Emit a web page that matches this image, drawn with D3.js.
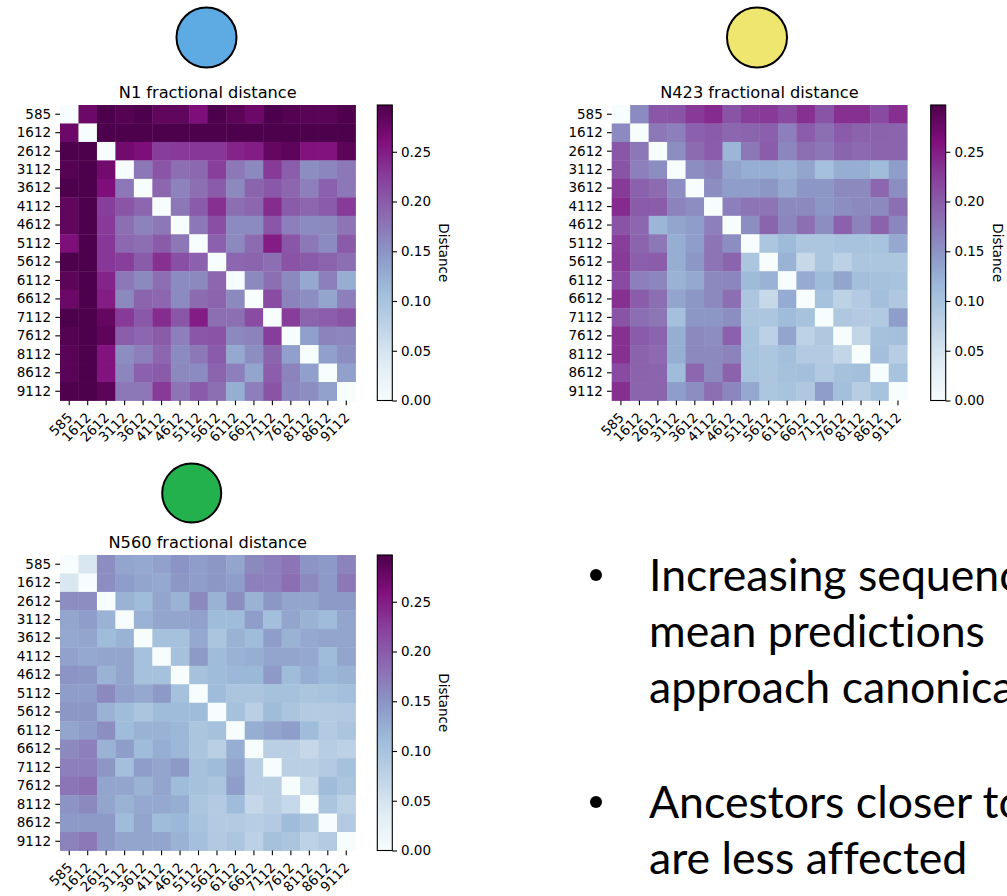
<!DOCTYPE html>
<html>
<head>
<meta charset="utf-8">
<script src="https://cdn.jsdelivr.net/npm/d3@7"></script>
<style>
  html,body{margin:0;padding:0;background:#fff;overflow:hidden;}
  svg{display:block;}
  .bullet{font-variant-ligatures:none;font-feature-settings:"liga" 0;}
</style>
</head>
<body>
<div id="chart"></div>
<script>
const labels=["585","1612","2612","3112","3612","4112","4612","5112","5612","6112","6612","7112","7612","8112","8612","9112"];

// upper triangle of each symmetric distance matrix (row i holds columns i+1..15)
const n1Upper=[
  [0.275,0.297,0.290,0.297,0.283,0.283,0.262,0.297,0.287,0.275,0.297,0.292,0.288,0.288,0.295],
  [0.297,0.297,0.297,0.297,0.297,0.297,0.297,0.297,0.297,0.297,0.297,0.297,0.297,0.297],
  [0.270,0.262,0.226,0.228,0.230,0.230,0.245,0.250,0.280,0.285,0.258,0.258,0.287],
  [0.175,0.205,0.183,0.188,0.225,0.175,0.160,0.228,0.197,0.155,0.162,0.175],
  [0.190,0.165,0.182,0.200,0.160,0.192,0.202,0.190,0.168,0.195,0.175],
  [0.175,0.200,0.235,0.182,0.190,0.238,0.200,0.190,0.200,0.228],
  [0.175,0.210,0.158,0.158,0.203,0.168,0.158,0.160,0.178],
  [0.195,0.160,0.186,0.250,0.203,0.175,0.158,0.200],
  [0.190,0.192,0.182,0.207,0.200,0.192,0.182],
  [0.160,0.182,0.160,0.130,0.168,0.125],
  [0.213,0.165,0.155,0.135,0.168],
  [0.226,0.192,0.198,0.206],
  [0.140,0.165,0.162],
  [0.140,0.155],
  [0.138]
];
const n423Upper=[
  [0.158,0.203,0.206,0.228,0.240,0.206,0.224,0.228,0.215,0.235,0.206,0.235,0.235,0.214,0.236],
  [0.175,0.168,0.195,0.200,0.190,0.192,0.196,0.168,0.199,0.183,0.200,0.193,0.193,0.192],
  [0.155,0.186,0.199,0.117,0.175,0.199,0.162,0.183,0.176,0.192,0.187,0.192,0.192],
  [0.155,0.165,0.135,0.125,0.125,0.120,0.135,0.105,0.125,0.125,0.110,0.142],
  [0.155,0.142,0.142,0.148,0.130,0.148,0.148,0.160,0.160,0.190,0.155],
  [0.168,0.178,0.178,0.160,0.160,0.148,0.155,0.160,0.160,0.182],
  [0.155,0.192,0.162,0.182,0.155,0.195,0.165,0.193,0.162],
  [0.095,0.112,0.095,0.095,0.100,0.100,0.100,0.130],
  [0.120,0.065,0.095,0.078,0.095,0.095,0.095],
  [0.128,0.110,0.135,0.106,0.104,0.100],
  [0.102,0.076,0.088,0.106,0.092],
  [0.092,0.088,0.090,0.142],
  [0.070,0.104,0.106],
  [0.106,0.084],
  [0.100]
];
const n560Upper=[
  [0.045,0.155,0.135,0.130,0.138,0.150,0.142,0.148,0.135,0.160,0.168,0.177,0.150,0.146,0.165],
  [0.155,0.142,0.135,0.130,0.148,0.142,0.148,0.142,0.168,0.168,0.182,0.160,0.146,0.175],
  [0.120,0.110,0.135,0.120,0.160,0.120,0.155,0.120,0.148,0.135,0.135,0.146,0.146],
  [0.120,0.135,0.135,0.138,0.110,0.110,0.142,0.106,0.135,0.120,0.110,0.135],
  [0.104,0.104,0.130,0.097,0.120,0.110,0.142,0.120,0.130,0.135,0.135],
  [0.104,0.146,0.110,0.120,0.125,0.135,0.135,0.130,0.110,0.135],
  [0.104,0.110,0.115,0.115,0.146,0.110,0.125,0.115,0.120],
  [0.110,0.097,0.097,0.104,0.104,0.097,0.100,0.106],
  [0.104,0.080,0.110,0.097,0.088,0.088,0.090],
  [0.125,0.135,0.142,0.110,0.088,0.097],
  [0.080,0.080,0.068,0.084,0.078],
  [0.080,0.080,0.088,0.104],
  [0.066,0.110,0.097],
  [0.097,0.076],
  [0.088]
];
const titles=["N1 fractional distance","N423 fractional distance","N560 fractional distance"];
const cbTicks=[0,0.05,0.10,0.15,0.20,0.25];
const bullets=[["Increasing sequence","mean predictions","approach canonical"],["Ancestors closer to","are less affected"]];

const buPu=["#f7fcfd","#e0ecf4","#bfd3e6","#9ebcda","#8c96c6","#8c6bb1","#88419d","#810f7c","#4d004b"];

function toMatrix(up){
  const n=labels.length,m=[];
  for(let i=0;i<n;i++){m.push([]);for(let j=0;j<n;j++)m[i].push(0);}
  up.forEach((row,i)=>row.forEach((v,k)=>{const j=i+1+k;m[i][j]=v;m[j][i]=v;}));
  return m;
}
const mats=[n1Upper,n423Upper,n560Upper].map(toMatrix);
const vmax=d3.max(mats.flat(2));
const color=d3.scaleLinear().domain(buPu.map((c,i)=>i/(buPu.length-1)*vmax)).range(buPu).interpolate(d3.interpolateRgb).clamp(true);

const W=1007,H=896,S=295.5;
const svg=d3.select("#chart").append("svg").attr("width",W).attr("height",H);
const defs=svg.append("defs");
const grad=defs.append("linearGradient").attr("id","cbgrad").attr("x1",0).attr("y1",1).attr("x2",0).attr("y2",0);
buPu.forEach((c,i)=>grad.append("stop").attr("offset",i/(buPu.length-1)).attr("stop-color",c));

const panels=[
  {x0:60,y0:105,cb:377.3,circle:{cx:206.5,cy:37.5,r:30,fill:"#5eabe3"}},
  {x0:611.7,y0:105,cb:930.7,circle:{cx:757,cy:37.5,r:30,fill:"#efe66f"}},
  {x0:60,y0:555,cb:377.3,circle:{cx:191.7,cy:493,r:29.5,fill:"#22b14c"}}
];
const FONT="'DejaVu Sans', sans-serif";

panels.forEach((p,pi)=>{
  const m=mats[pi];
  const x=d3.scaleBand().domain(labels).range([p.x0,p.x0+S]);
  const y=d3.scaleBand().domain(labels).range([p.y0,p.y0+S]);
  const cells=[];
  m.forEach((row,i)=>row.forEach((v,j)=>cells.push({r:labels[i],c:labels[j],v})));
  svg.append("g").selectAll("rect").data(cells).join("rect")
    .attr("x",d=>x(d.c)).attr("y",d=>y(d.r))
    .attr("width",x.bandwidth()+0.4).attr("height",y.bandwidth()+0.4)
    .attr("fill",d=>color(d.v));

  const ya=svg.append("g").attr("transform",`translate(${p.x0},0)`)
    .call(d3.axisLeft(y).tickSize(4.7).tickPadding(4.2));
  ya.select(".domain").remove();
  ya.selectAll("line").attr("stroke","#000").attr("stroke-width",1.1);
  ya.selectAll("text").attr("font-family",FONT).attr("font-size",13.5).attr("fill","#000");

  const xa=svg.append("g").attr("transform",`translate(0,${p.y0+S})`)
    .call(d3.axisBottom(x).tickSize(4.7).tickPadding(4));
  xa.select(".domain").remove();
  xa.selectAll("line").attr("stroke","#000").attr("stroke-width",1.1);
  xa.selectAll("text").attr("font-family",FONT).attr("font-size",13.5).attr("fill","#000")
    .attr("text-anchor","end").attr("dy",null).attr("y",null)
    .attr("transform","translate(4,18) rotate(-45)");

  svg.append("text").attr("x",p.x0+S/2).attr("y",p.y0-7.5).attr("text-anchor","middle")
    .attr("font-family",FONT).attr("font-size",16.2).attr("fill","#000").text(titles[pi]);

  // colorbar
  const cbW=15;
  const cy=d3.scaleLinear().domain([0,vmax]).range([p.y0+S,p.y0]);
  svg.append("rect").attr("x",p.cb).attr("y",p.y0).attr("width",cbW).attr("height",S)
    .attr("fill","url(#cbgrad)").attr("stroke","#000").attr("stroke-width",1.1);
  const ca=svg.append("g").attr("transform",`translate(${p.cb+cbW},0)`)
    .call(d3.axisRight(cy).tickValues(cbTicks).tickFormat(d3.format(".2f")).tickSize(4.7).tickPadding(4));
  ca.select(".domain").remove();
  ca.selectAll("line").attr("stroke","#000").attr("stroke-width",1.1);
  ca.selectAll("text").attr("font-family",FONT).attr("font-size",13.5).attr("fill","#000");
  svg.append("text").attr("transform",`translate(${p.cb+cbW+52},${p.y0+S/2}) rotate(90)`)
    .attr("text-anchor","middle").attr("dominant-baseline","central")
    .attr("font-family",FONT).attr("font-size",13.5).attr("fill","#000").text("Distance");

  svg.append("circle").attr("cx",p.circle.cx).attr("cy",p.circle.cy).attr("r",p.circle.r)
    .attr("fill",p.circle.fill).attr("stroke","#000").attr("stroke-width",2);
});

// bullet text, font size fitted so "mean predictions" spans ~336px like the slide
const BF="Lato, 'Open Sans', sans-serif";
const probe=svg.append("text").attr("class","bullet").attr("font-family",BF).attr("font-size",40).text(bullets[0][1]);
const fs=40*336/probe.node().getComputedTextLength();
probe.remove();
const baselines=[[591,647,703],[818,874]];
bullets.forEach((lines,bi)=>{
  svg.append("circle").attr("cx",596).attr("cy",baselines[bi][0]-16).attr("r",6).attr("fill","#000");
  lines.forEach((t,li)=>{
    svg.append("text").attr("class","bullet").attr("x",649).attr("y",baselines[bi][li]).attr("font-family",BF)
      .attr("font-size",fs).attr("fill","#000").text(t);
  });
});
</script>
</body>
</html>
